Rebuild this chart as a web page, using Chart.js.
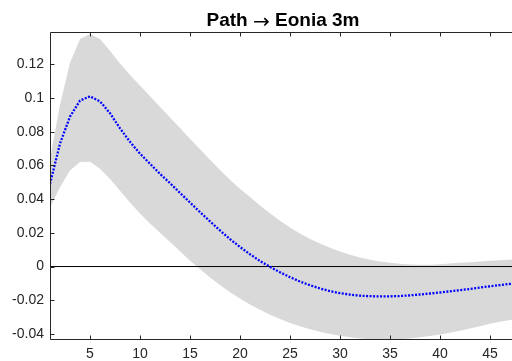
<!DOCTYPE html>
<html>
<head>
<meta charset="utf-8">
<script src="https://cdn.jsdelivr.net/npm/chart.js@4"></script>
<style>
  html, body { margin: 0; padding: 0; background: #fff; overflow: hidden; }
  #wrap { width: 530px; height: 361px; position: relative; }
</style>
</head>
<body>
<div id="wrap"><canvas id="irf"></canvas></div>
<script>
// horizon (months) and impulse response of Eonia 3m to the path shock
const steps = [1, 2, 3, 4, 5, 6, 7, 8, 9, 10, 11, 12, 13, 14, 15, 16, 17, 18, 19, 20, 21, 22, 23, 24,
  25, 26, 27, 28, 29, 30, 31, 32, 33, 34, 35, 36, 37, 38, 39, 40, 41, 42, 43, 44, 45, 46, 47, 48];
const median = [0.049, 0.073, 0.089, 0.0985, 0.101, 0.098, 0.091, 0.082, 0.074, 0.067, 0.061, 0.055,
  0.0495, 0.0437, 0.038, 0.0323, 0.0268, 0.0214, 0.0163, 0.0116, 0.0073, 0.0033, -0.0002, -0.0034,
  -0.0063, -0.0089, -0.0111, -0.013, -0.0146, -0.0158, -0.0167, -0.0173, -0.0176, -0.0177, -0.0177, -0.0175,
  -0.0171, -0.0166, -0.016, -0.0154, -0.0147, -0.014, -0.0133, -0.0125, -0.0117, -0.011, -0.0103, -0.0096];
const upper = [0.064, 0.096, 0.121, 0.135, 0.138, 0.135, 0.128, 0.1205, 0.1137, 0.1074, 0.1011, 0.0948,
  0.0885, 0.0822, 0.0759, 0.0696, 0.0634, 0.0573, 0.0515, 0.0462, 0.0412, 0.0363, 0.0316, 0.0272,
  0.0232, 0.0196, 0.0164, 0.0136, 0.0111, 0.0089, 0.007, 0.0054, 0.0041, 0.003, 0.0022, 0.0016,
  0.0012, 0.001, 0.0011, 0.0014, 0.0018, 0.0022, 0.0026, 0.003, 0.0034, 0.0038, 0.0041, 0.0044];
const lower = [0.035, 0.047, 0.057, 0.062, 0.0622, 0.058, 0.052, 0.045, 0.038, 0.0315, 0.0255, 0.02,
  0.0145, 0.009, 0.0035, -0.0015, -0.0065, -0.011, -0.0152, -0.019, -0.0225, -0.0257, -0.0286, -0.0312,
  -0.0335, -0.0355, -0.0372, -0.0387, -0.04, -0.0411, -0.042, -0.0427, -0.0432, -0.0435, -0.0435, -0.0432,
  -0.0427, -0.042, -0.0412, -0.0403, -0.0393, -0.0381, -0.0368, -0.0354, -0.034, -0.0328, -0.0318, -0.031];
const zero = steps.map(() => 0);
const xTicks = [5, 10, 15, 20, 25, 30, 35, 40, 45];
const yTicks = [-0.04, -0.02, 0, 0.02, 0.04, 0.06, 0.08, 0.1, 0.12];

const axisColor = '#262626';
const fmt = (v) => String(parseFloat(Number(v).toFixed(4)));

// box around the axes with inward tick marks, matlab style
const frame = {
  id: 'frame',
  afterDraw(chart) {
    const { ctx, chartArea: a, scales } = chart;
    const l = Math.round(a.left) + 0.5, r = Math.round(a.right) + 0.5;
    const t = Math.round(a.top) + 0.5, b = Math.round(a.bottom) - 0.5;
    ctx.save();
    ctx.strokeStyle = axisColor;
    ctx.lineWidth = 1;
    ctx.beginPath();
    ctx.rect(l, t, r - l, b - t);
    xTicks.forEach((v) => {
      const x = Math.round(scales.x.getPixelForValue(v)) + 0.5;
      ctx.moveTo(x, b); ctx.lineTo(x, b - 4);
      ctx.moveTo(x, t); ctx.lineTo(x, t + 4);
    });
    yTicks.forEach((v) => {
      const y = Math.round(scales.y.getPixelForValue(v)) + 0.5;
      ctx.moveTo(l, y); ctx.lineTo(l + 4, y);
      ctx.moveTo(r, y); ctx.lineTo(r - 4, y);
    });
    ctx.stroke();
    ctx.restore();
  },
};

// title with a thin arrow between the bold words
const heading = {
  id: 'heading',
  afterDraw(chart) {
    const { ctx, chartArea: a } = chart;
    const parts = [
      { text: 'Path ', font: 'bold 19px "Liberation Sans", Arial, sans-serif', dy: 0 },
      { text: '\u2192', font: '20px "DejaVu Sans", sans-serif', dy: 2 },
      { text: ' Eonia 3m', font: 'bold 19px "Liberation Sans", Arial, sans-serif', dy: 0 },
    ];
    ctx.save();
    let total = 0;
    parts.forEach((p) => { ctx.font = p.font; p.w = ctx.measureText(p.text).width; total += p.w; });
    let x = (a.left + a.right) / 2 - 2 - total / 2;
    ctx.fillStyle = '#000';
    ctx.textBaseline = 'alphabetic';
    parts.forEach((p) => { ctx.font = p.font; ctx.fillText(p.text, x, 26 + p.dy); x += p.w; });
    ctx.restore();
  },
};

new Chart(document.getElementById('irf').getContext('2d'), {
  type: 'line',
  data: {
    labels: steps,
    datasets: [
      {
        data: median,
        borderColor: '#0000ff',
        borderWidth: 2.3,
        borderDash: [2, 1.5],
        pointRadius: 0,
        tension: 0,
        fill: false,
      },
      {
        data: zero,
        borderColor: '#000000',
        borderWidth: 1,
        pointRadius: 0,
        fill: false,
      },
      {
        data: upper,
        borderWidth: 0,
        borderColor: 'rgba(0,0,0,0)',
        backgroundColor: '#d9d9d9',
        pointRadius: 0,
        fill: '+1',
      },
      {
        data: lower,
        borderWidth: 0,
        borderColor: 'rgba(0,0,0,0)',
        pointRadius: 0,
        fill: false,
      },
    ],
  },
  options: {
    responsive: true,
    maintainAspectRatio: false,
    animation: false,
    layout: { padding: { top: 32, right: 10, left: 0, bottom: 0 } },
    plugins: { legend: { display: false }, tooltip: { enabled: false }, title: { display: false } },
    scales: {
      x: {
        type: 'linear',
        min: 1,
        max: 48,
        afterBuildTicks: (s) => { s.ticks = xTicks.map((v) => ({ value: v })); },
        afterFit: (s) => { s.height = 21; },
        grid: { display: false, drawTicks: false },
        border: { display: false },
        ticks: {
          color: axisColor,
          padding: 6,
          maxRotation: 0,
          font: { family: '"Liberation Sans", Arial, sans-serif', size: 14 },
          callback: (v) => fmt(v),
        },
      },
      y: {
        type: 'linear',
        min: -0.0436,
        max: 0.1392,
        afterBuildTicks: (s) => { s.ticks = yTicks.map((v) => ({ value: v })); },
        afterFit: (s) => { s.width = 50; },
        grid: { display: false, drawTicks: false },
        border: { display: false },
        ticks: {
          color: axisColor,
          padding: 6,
          font: { family: '"Liberation Sans", Arial, sans-serif', size: 14 },
          callback: (v) => fmt(v),
        },
      },
    },
  },
  plugins: [frame, heading],
});
</script>
</body>
</html>
